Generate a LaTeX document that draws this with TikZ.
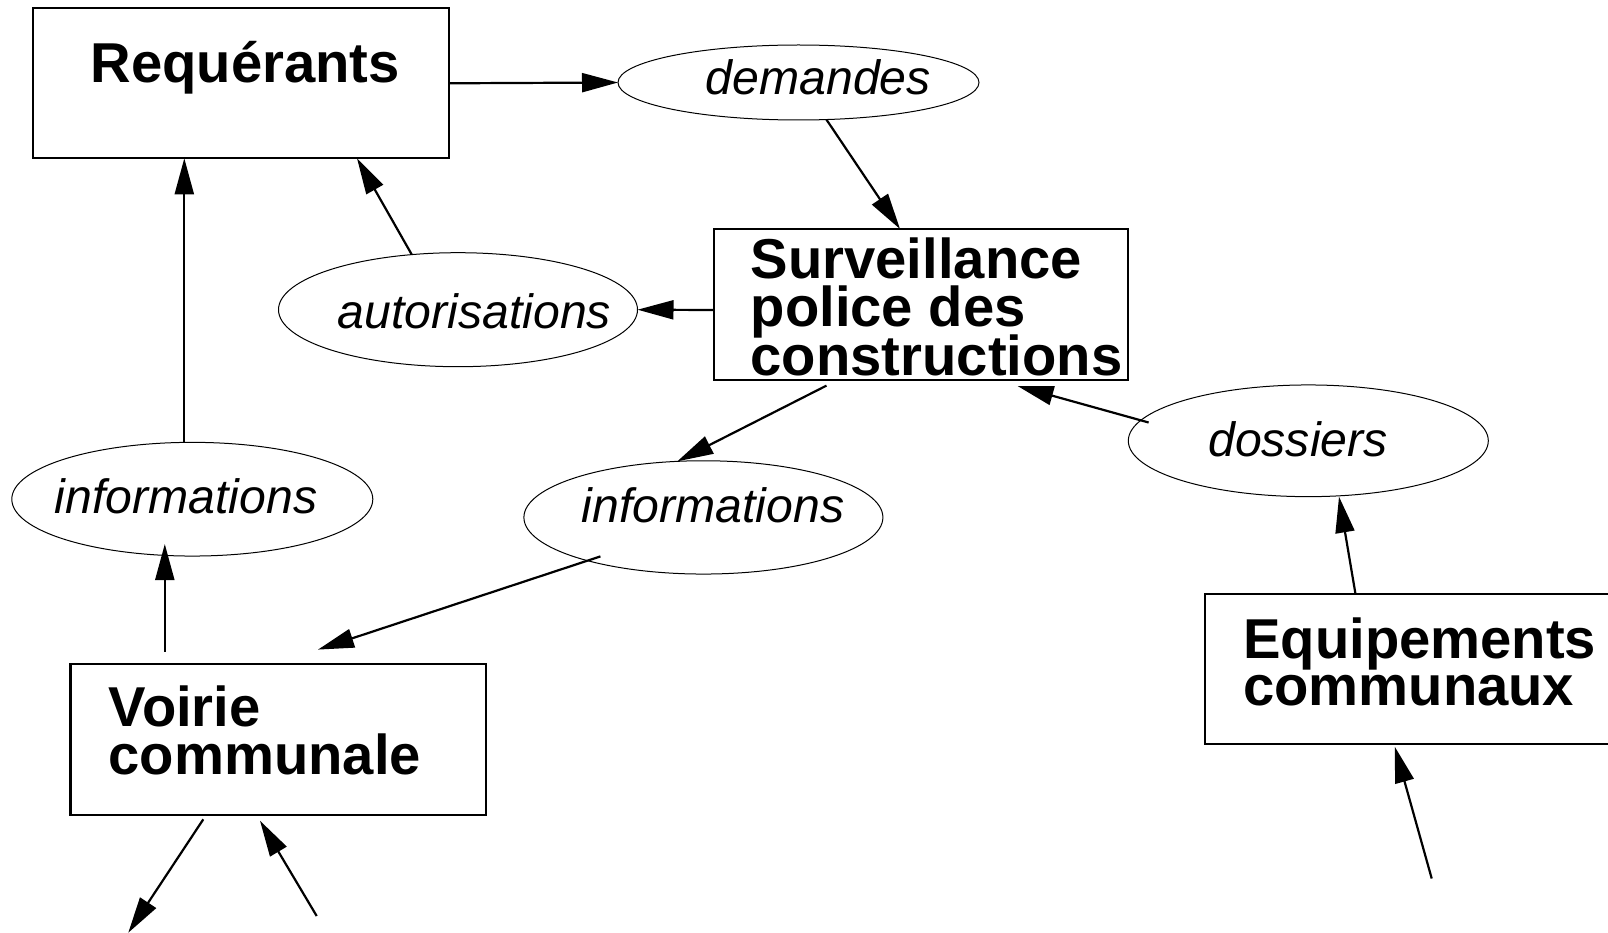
\documentclass[tikz,border=0pt]{standalone}
\usepackage{fontspec}
\setmainfont{Liberation Sans}
\usetikzlibrary{arrows.meta,shapes.geometric}
\tikzset{
  boxnode/.style={draw, line width=2.2pt, rectangle, inner sep=0pt, outer sep=0pt},
  ellnode/.style={draw, line width=1pt, ellipse, inner sep=0pt, outer sep=0pt},
  boldtxt/.style={inner sep=0pt, anchor=base west, text height=39pt, text depth=8pt, font=\bfseries\fontsize{56.2}{47.5}\selectfont},
  itxt/.style={inner sep=0pt, anchor=base west, font=\itshape\fontsize{48.2}{48.2}\selectfont},
  arr/.style={line width=2.2pt, -{Triangle[length=36pt,width=19pt]}}
}
\begin{document}
\begin{tikzpicture}[x=1pt,y=-1pt]
\useasboundingbox (0,0) rectangle (1608,933);
\clip (0,0) rectangle (1608,933);
% boxes
\node[boxnode, minimum width=415.7pt, minimum height=150pt] (req) at (241.2,83.3) {};
\node[boxnode, minimum width=414pt, minimum height=151pt] (surv) at (921,304.5) {};
\node[boxnode, minimum width=415.5pt, minimum height=151.4pt] (voi) at (278.3,739.3) {};
\node[boxnode, minimum width=415pt, minimum height=150.3pt] (equ) at (1412.5,669.2) {};
% ellipses
\node[ellnode, minimum width=361pt, minimum height=75pt] (dem) at (798.5,82.5) {};
\node[ellnode, minimum width=359pt, minimum height=114pt] (aut) at (458,309.7) {};
\node[ellnode, minimum width=361pt, minimum height=113.7pt] (inf1) at (192.3,499.2) {};
\node[ellnode, minimum width=359pt, minimum height=113.3pt] (inf2) at (703.4,517.4) {};
\node[ellnode, minimum width=360pt, minimum height=111.7pt] (dos) at (1308.3,440.8) {};
% texts
\node[boldtxt] (treq) at (90.5,82.7) {Requérants};
\node[boldtxt] (ts1) at (750.5,278.3) {Surveillance};
\node[boldtxt] (ts2) at (750.5,326.7) {police des};
\node[boldtxt] (ts3) at (750.5,375) {constructions};
\node[boldtxt] (tv1) at (108.5,726.5) {Voirie};
\node[boldtxt] (tv2) at (108.5,774) {communale};
\node[boldtxt] (te1) at (1243,658.3) {Equipements};
\node[boldtxt] (te2) at (1243,705.7) {communaux};
\node[itxt] (tdem) at (705.5,95) {demandes};
\node[itxt] (taut) at (337.5,328) {autorisations};
\node[itxt] (tinf1) at (54.5,513.3) {informations};
\node[itxt] (tinf2) at (581.5,522) {informations};
\node[itxt] (tdos) at (1208,456.7) {dossiers};
% free ends
\coordinate (outv) at (128.3,932.7);
\coordinate (inv) at (316.7,916);
\coordinate (ine) at (1431.7,878.5);
% connectors
\draw[arr] (req.east) -- (dem.west);
\draw[arr] (dem.-53) -- ([xshift=-21pt]surv.north);
\draw[arr] ([yshift=-5.5pt]surv.west) -- (aut.east);
\draw[arr] (aut.130) -- ([xshift=115.8pt]req.south);
\draw[arr] ([xshift=-8pt]inf1.north) -- ([xshift=-8pt]inf1.north |- req.south);
\draw[arr] ([xshift=-113.5pt,yshift=12pt]voi.north) -- ([xshift=-113.5pt,yshift=12pt]voi.north |- inf1.south);
\draw[arr] ([xshift=-94.5pt,yshift=-5.6pt]surv.south) -- (inf2.115);
\draw[arr] ([xshift=-103pt,yshift=-39pt]inf2.center) -- ([xshift=39.7pt,yshift=14pt]voi.north);
\draw[arr] ([xshift=-159.7pt,yshift=18.3pt]dos.center) -- ([xshift=96.5pt,yshift=-6pt]surv.south);
\draw[arr] ([xshift=-57pt]equ.north) -- ([xshift=30.7pt]dos.south);
\draw[arr] (ine) -- ([xshift=-17.7pt,yshift=-2.4pt]equ.south);
\draw[arr] ([xshift=-75pt,yshift=-4.3pt]voi.south) -- (outv);
\draw[arr] (inv) -- ([xshift=-18.3pt,yshift=-5.7pt]voi.south);
\end{tikzpicture}
\end{document}
